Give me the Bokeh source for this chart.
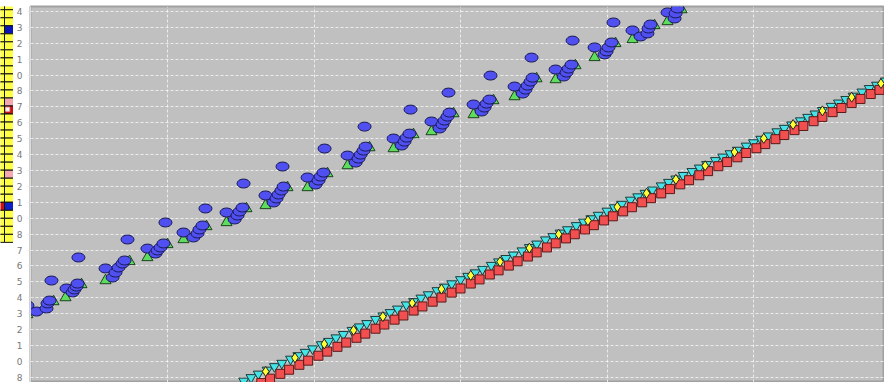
from bokeh.plotting import figure
from bokeh.layouts import row
from bokeh.models import Range1d, FixedTicker
from bokeh.embed import file_html
from bokeh.resources import INLINE

# ---------------- left strip (heat grid) ----------------
heat_rows = list(range(-1, 29))
heat_cols = [-1, 0]
heat_base_color = "#ffff44"
special_rows = [2, 11, 12, 20, 24, 24]
special_cols = [0, 0, 0, 0, -1, 0]
special_colors = ["#0a14b4", "#f4a8b0", "#c81414", "#f4a8b0", "#d01010", "#1020c8"]
flag_rows = [12]
flag_cols = [0]

# ---------------- main chart ----------------
y_tick_values = list(range(24))
y_tick_labels = ["8", "0", "1", "2", "3", "4", "5", "6", "7", "8", "0", "1",
                 "2", "3", "4", "5", "6", "7", "8", "0", "1", "2", "3", "4"]
x_grid_values = [1, 2, 3, 4, 5]

blue_x = [0.044, 0.106, 0.174, 0.181, 0.195, 0.208,
          0.311, 0.352, 0.365, 0.379, 0.386, 0.392,
          0.577, 0.625, 0.645, 0.666, 0.693, 0.707, 0.727,
          0.863, 0.918, 0.932, 0.952, 0.973, 0.986,
          1.109, 1.177, 1.205, 1.218, 1.239, 1.259,
          1.403, 1.458, 1.478, 1.492, 1.512, 1.519,
          1.669, 1.724, 1.744, 1.758, 1.778, 1.792, 1.785,
          1.956, 2.011, 2.031, 2.045, 2.065, 2.072,
          2.229, 2.284, 2.304, 2.318, 2.338, 2.352, 2.345,
          2.543, 2.598, 2.618, 2.632, 2.652, 2.659,
          2.802, 2.857, 2.877, 2.891, 2.911, 2.925, 2.918,
          3.089, 3.144, 3.164, 3.178, 3.198, 3.205,
          3.369, 3.424, 3.444, 3.458, 3.478, 3.492, 3.485,
          3.649, 3.704, 3.724, 3.738, 3.758, 3.765,
          3.915, 3.983, 3.997, 4.010, 4.031, 4.044,
          4.174, 4.229, 4.276, 4.283, 4.297,
          4.413, 4.461, 4.468, 4.481]
blue_y = [4.51, 4.13, 4.32, 4.64, 4.82, 6.08,
          5.58, 5.33, 5.52, 5.70, 5.89, 7.53,
          6.84, 6.27, 6.58, 6.90, 7.15, 7.34, 8.66,
          8.09, 7.78, 7.97, 8.16, 8.41, 9.73,
          9.10, 8.79, 9.04, 9.29, 9.54, 10.61,
          10.36, 9.92, 10.17, 10.42, 10.67, 12.18,
          11.43, 10.99, 11.24, 11.49, 11.74, 11.99, 13.25,
          12.56, 12.12, 12.37, 12.62, 12.87, 14.38,
          13.94, 13.50, 13.75, 14.00, 14.25, 14.50, 15.76,
          15.01, 14.57, 14.82, 15.07, 15.32, 16.83,
          16.08, 15.64, 15.89, 16.14, 16.39, 16.64, 17.90,
          17.15, 16.71, 16.96, 17.21, 17.46, 18.97,
          18.28, 17.84, 18.09, 18.34, 18.59, 18.84, 20.10,
          19.35, 18.91, 19.16, 19.41, 19.66, 21.17,
          20.74, 20.30, 20.49, 20.74, 21.05, 22.31,
          21.81, 21.43, 21.62, 21.93, 22.18,
          22.94, 22.56, 22.88, 23.19]

green_x = [0.044, 0.222, 0.304, 0.413, 0.577, 0.741, 0.863, 1.000, 1.109, 1.266,
           1.403, 1.539, 1.669, 1.819, 1.956, 2.092, 2.229, 2.379, 2.543, 2.679,
           2.802, 2.952, 3.089, 3.225, 3.369, 3.519, 3.649, 3.785, 3.915, 4.058,
           4.174, 4.324, 4.413, 4.509]
green_y = [3.94, 4.76, 5.01, 5.83, 6.08, 7.28, 7.53, 8.35, 8.66, 9.48,
           9.73, 10.61, 10.80, 11.93, 11.93, 12.81, 13.31, 14.44, 14.38, 15.26,
           15.45, 16.58, 16.52, 17.40, 17.65, 18.78, 18.72, 19.60, 20.11, 20.99,
           21.24, 22.12, 22.37, 23.12]

red_x = [1.64, 1.70, 1.77, 1.83, 1.90, 1.96, 2.03, 2.09, 2.16, 2.22, 2.29, 2.35,
         2.42, 2.48, 2.55, 2.61, 2.68, 2.74, 2.81, 2.87, 2.94, 3.00, 3.07, 3.13,
         3.20, 3.26, 3.33, 3.39, 3.46, 3.52, 3.59, 3.65, 3.72, 3.78, 3.85, 3.91,
         3.98, 4.04, 4.11, 4.17, 4.24, 4.30, 4.37, 4.43, 4.50, 4.56, 4.63, 4.69,
         4.76, 4.82, 4.89, 4.95, 5.02, 5.08, 5.15, 5.21, 5.28, 5.34, 5.41, 5.47,
         5.54, 5.60, 5.67, 5.73, 5.80, 5.86]
red_y = [-0.36, -0.09, 0.21, 0.47, 0.78, 1.04, 1.35, 1.61, 1.91, 2.18, 2.48, 2.74,
         3.05, 3.31, 3.62, 3.88, 4.19, 4.45, 4.75, 5.01, 5.32, 5.58, 5.89, 6.15,
         6.46, 6.72, 7.02, 7.29, 7.59, 7.85, 8.16, 8.42, 8.73, 8.99, 9.29, 9.56,
         9.86, 10.12, 10.43, 10.69, 11.00, 11.26, 11.56, 11.83, 12.13, 12.39, 12.70, 12.96,
         13.27, 13.53, 13.83, 14.10, 14.40, 14.66, 14.97, 15.23, 15.54, 15.80, 16.10, 16.37,
         16.67, 16.93, 17.24, 17.50, 17.81, 18.07]

cyan_x = [1.52, 1.57, 1.62, 1.68, 1.73, 1.78, 1.84, 1.89, 1.94, 1.99, 2.05, 2.10,
          2.15, 2.20, 2.26, 2.31, 2.36, 2.42, 2.47, 2.52, 2.57, 2.63, 2.68, 2.73,
          2.78, 2.84, 2.89, 2.94, 3.00, 3.05, 3.10, 3.15, 3.21, 3.26, 3.31, 3.36,
          3.42, 3.47, 3.52, 3.58, 3.63, 3.68, 3.73, 3.79, 3.84, 3.89, 3.94, 4.00,
          4.05, 4.10, 4.16, 4.21, 4.26, 4.31, 4.37, 4.42, 4.47, 4.52, 4.58, 4.63,
          4.68, 4.74, 4.79, 4.84, 4.89, 4.95, 5.00, 5.05, 5.10, 5.16, 5.21, 5.26,
          5.32, 5.37, 5.42, 5.47, 5.53, 5.58, 5.63, 5.68, 5.74, 5.79, 5.84, 5.90]
cyan_y = [-0.24, -0.02, 0.20, 0.45, 0.67, 0.88, 1.14, 1.36, 1.57, 1.79, 2.05, 2.26,
          2.48, 2.69, 2.95, 3.17, 3.38, 3.64, 3.86, 4.07, 4.29, 4.55, 4.76, 4.98,
          5.19, 5.45, 5.67, 5.88, 6.14, 6.35, 6.57, 6.79, 7.04, 7.26, 7.47, 7.69,
          7.95, 8.16, 8.38, 8.64, 8.85, 9.07, 9.28, 9.54, 9.76, 9.97, 10.19, 10.45,
          10.66, 10.88, 11.14, 11.35, 11.57, 11.78, 12.04, 12.26, 12.47, 12.69, 12.94, 13.16,
          13.38, 13.63, 13.85, 14.06, 14.28, 14.54, 14.75, 14.97, 15.18, 15.44, 15.66, 15.87,
          16.13, 16.35, 16.56, 16.78, 17.04, 17.25, 17.47, 17.68, 17.94, 18.16, 18.37, 18.63]

yellow_x = [1.67, 1.87, 2.07, 2.27, 2.47, 2.67, 2.87, 3.07, 3.27, 3.47, 3.67,
            3.87, 4.07, 4.27, 4.47, 4.67, 4.87, 5.07, 5.27, 5.47, 5.67, 5.87]
yellow_y = [0.36, 1.22, 2.09, 2.95, 3.81, 4.67, 5.54, 6.40, 7.26, 8.12, 8.99,
            9.85, 10.71, 11.57, 12.44, 13.30, 14.16, 15.02, 15.89, 16.75, 17.61, 18.47]

# ---------------- heat strip figure ----------------
hx, hy, hc = [], [], []
for r in heat_rows:
    for c in heat_cols:
        hx.append(c + 0.5)
        hy.append(r + 0.5)
        hc.append(heat_base_color)
for r, c, col in zip(special_rows, special_cols, special_colors):
    i = heat_rows.index(r) * len(heat_cols) + heat_cols.index(c)
    hc[i] = col

heat = figure(width=13, height=382, x_range=Range1d(-4 / 9, 1),
              y_range=Range1d(46.47, -0.405), toolbar_location=None,
              output_backend="svg", min_border=0, min_border_left=0,
              min_border_right=0, min_border_top=0, min_border_bottom=0)
heat.axis.visible = False
heat.grid.visible = False
heat.outline_line_color = None
heat.rect(x=hx, y=hy, width=1, height=1, fill_color=hc, line_color="#111111",
          line_width=1)
heat.scatter(x=[c + 0.35 for c in flag_cols], y=[r + 0.4 for r in flag_rows],
             marker="square", size=4, fill_color="white", line_color="#f0b0b0")

# ---------------- main figure ----------------
p = figure(width=871, height=382, x_range=Range1d(0.0648, 5.894),
           y_range=Range1d(-0.333, 23.314), toolbar_location=None,
           output_backend="svg", min_border_left=17, min_border_right=0,
           min_border_top=6, min_border_bottom=0,
           background_fill_color="#c0c0c0", border_fill_color="white")
p.xaxis.visible = False
p.outline_line_color = "#a0a0a0"
p.outline_line_width = 2

ya = p.yaxis[0]
ya.ticker = FixedTicker(ticks=y_tick_values)
ya.major_label_overrides = {v: s for v, s in zip(y_tick_values, y_tick_labels)}
ya.major_label_text_font = "DejaVu Sans"
ya.major_label_text_font_size = "9px"
ya.major_label_text_color = "#777777"
ya.major_tick_out = 2
ya.major_tick_in = 0
ya.major_tick_line_color = "#dddddd"
ya.minor_tick_line_color = None
ya.axis_line_color = "#dddddd"
ya.major_label_standoff = 6

p.xgrid.ticker = FixedTicker(ticks=x_grid_values)
p.grid.grid_line_color = "white"
p.grid.grid_line_alpha = 0.7
p.grid.grid_line_dash = "3 2"
p.grid.grid_line_width = 1

p.scatter(cyan_x, cyan_y, marker="inverted_triangle", size=10,
          fill_color="#44e4e8", line_color="#1d3a3a", line_width=1)
p.scatter(red_x, red_y, marker="square", size=9,
          fill_color="#f25050", line_color="#5a1a1a", line_width=1)
p.scatter(yellow_x, yellow_y, marker="diamond", size=10,
          fill_color="#ffff33", line_color="#222222", line_width=1)
p.scatter(green_x, green_y, marker="triangle", size=11,
          fill_color="#5edc5e", line_color="#1d401d", line_width=1)
p.ellipse(blue_x, blue_y, width=13, height=9, width_units="screen",
          height_units="screen", fill_color="#5050f0", line_color="#1a1a55",
          line_width=1)

layout = row(heat, p)

open("out.html", "w").write(file_html(layout, INLINE))
